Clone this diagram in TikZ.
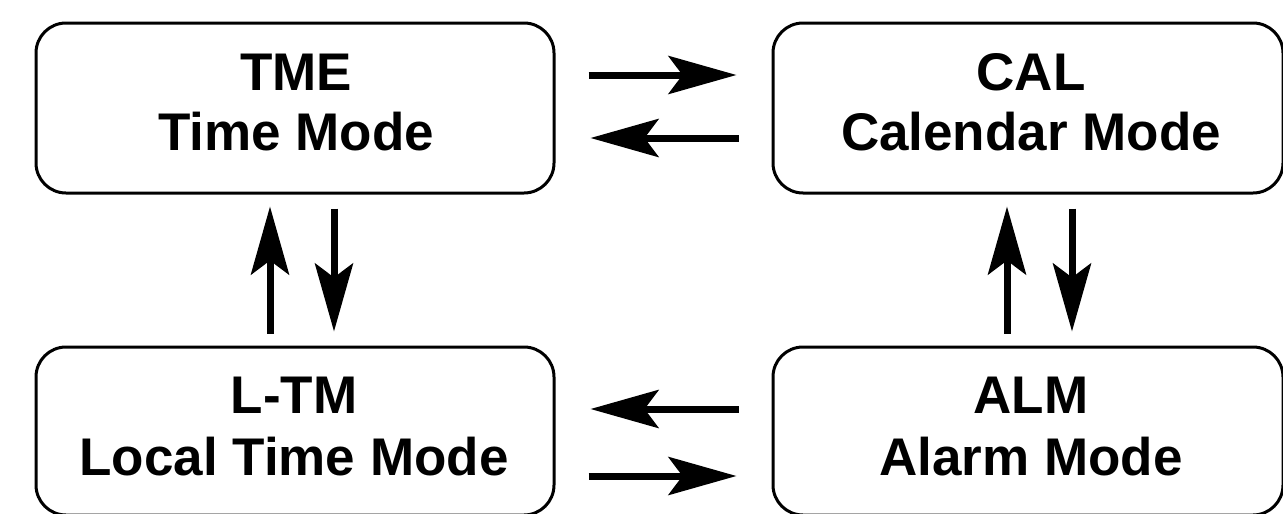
\documentclass[tikz,border=0pt]{standalone}
\usepackage{fontspec}
\setmainfont{Liberation Sans}
\usetikzlibrary{arrows.meta}
\tikzset{
  modebox/.style={draw=black, line width=3pt, rounded corners=30pt, fill=white, inner sep=0pt},
  lbl/.style={anchor=base, inner sep=0pt, font=\fontsize{53}{60}\selectfont\bfseries},
  arr/.style={line width=7pt, -{Stealth[length=68pt,width=38pt,inset=14pt]}}
}
\begin{document}
\begin{tikzpicture}[x=1pt,y=-1pt]
\useasboundingbox (0,0) rectangle (1283,514);
% boxes
\node[modebox, minimum width=518pt, minimum height=170pt] (tme) at (295,108) {};
\node[modebox, minimum width=510pt, minimum height=170pt] (cal) at (1028,108) {};
\node[modebox, minimum width=518pt, minimum height=168pt] (ltm) at (295,431) {};
\node[modebox, minimum width=510pt, minimum height=168pt] (alm) at (1028,431) {};
% labels
\node[lbl] (tme1) at (296,90) {TME};
\node[lbl] (tme2) at (296,150) {Time Mode};
\node[lbl] (cal1) at (1031,90) {CAL};
\node[lbl] (cal2) at (1031,150) {Calendar Mode};
\node[lbl] (ltm1) at (294,413) {L-TM};
\node[lbl] (ltm2) at (294,475) {Local Time Mode};
\node[lbl] (alm1) at (1031,413) {ALM};
\node[lbl] (alm2) at (1031,475) {Alarm Mode};
% horizontal arrows
\draw[arr] ([xshift=33pt,yshift=33pt]tme.east) -- ([xshift=-35pt,yshift=33pt]cal.west);
\draw[arr] ([xshift=-33pt,yshift=-30pt]cal.west) -- ([xshift=35pt,yshift=-30pt]tme.east);
\draw[arr] ([xshift=-33pt,yshift=22pt]alm.west) -- ([xshift=35pt,yshift=22pt]ltm.east);
\draw[arr] ([xshift=33pt,yshift=-45pt]ltm.east) -- ([xshift=-35pt,yshift=-45pt]alm.west);
% vertical arrows
\draw[arr] ([xshift=-25pt,yshift=12pt]ltm.north) -- ([xshift=-25pt,yshift=-12pt]tme.south);
\draw[arr] ([xshift=39pt,yshift=-14pt]tme.south) -- ([xshift=39pt,yshift=14pt]ltm.north);
\draw[arr] ([xshift=-21pt,yshift=12pt]alm.north) -- ([xshift=-21pt,yshift=-12pt]cal.south);
\draw[arr] ([xshift=44pt,yshift=-14pt]cal.south) -- ([xshift=44pt,yshift=14pt]alm.north);
\end{tikzpicture}
\end{document}
